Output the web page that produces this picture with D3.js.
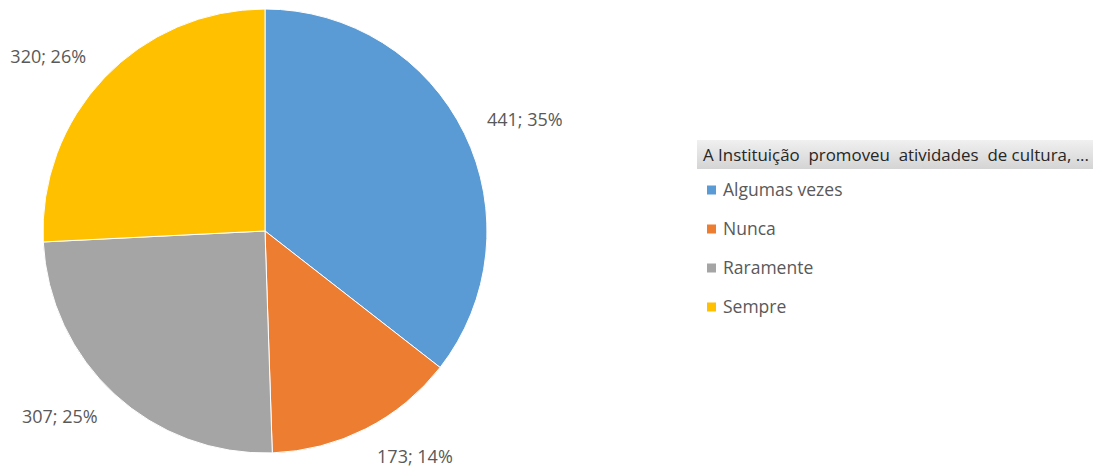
<!DOCTYPE html>
<html>
<head>
<meta charset="utf-8">
<script src="https://cdn.jsdelivr.net/npm/d3@7"></script>
<style>
  body { margin: 0; background: #fff; }
  svg { display: block; font-family: "Open Sans", "DejaVu Sans", sans-serif; }
</style>
</head>
<body>
<svg id="svg" width="1104" height="469"></svg>
<script>
const WIDTH = 1104
const HEIGHT = 469
const CX = 265
const CY = 231
const RADIUS = 222

const categories = ['Algumas vezes', 'Nunca', 'Raramente', 'Sempre']
const values = [441, 173, 307, 320]
const percents = [35, 14, 25, 26]
const colors = ['#5b9bd5', '#ed7d31', '#a5a5a5', '#ffc000']
const legendTitle = 'A Instituição  promoveu  atividades  de cultura, ...'

const data = categories.map((c, i) => ({ name: c, value: values[i], pct: percents[i] }))

const PIE = d3.pie().sort(null).value(d => d.value)
const ARC_DATA = PIE(data)
const ARC_GEN = d3.arc().innerRadius(0).outerRadius(RADIUS)
const LABEL_ARC = d3.arc().innerRadius(247).outerRadius(247)

const color = d3.scaleOrdinal().domain(categories).range(colors)

const SVG = d3.select('#svg')

const PIE_GROUP = SVG.append('g')
  .attr('transform', `translate(${CX}, ${CY})`)

PIE_GROUP.selectAll('path')
  .data(ARC_DATA)
  .enter()
  .append('path')
  .attr('d', ARC_GEN)
  .attr('fill', d => color(d.data.name))
  .attr('stroke', '#fff')
  .attr('stroke-width', 1)

const midAngle = d => (d.startAngle + d.endAngle) / 2

// labels sit a bit further out vertically, like Excel's best fit
PIE_GROUP.selectAll('text')
  .data(ARC_DATA)
  .enter()
  .append('text')
  .attr('transform', d => {
    const [x, y] = LABEL_ARC.centroid(d)
    return `translate(${x}, ${y - Math.cos(midAngle(d)) * 6})`
  })
  .attr('text-anchor', d => (midAngle(d) < Math.PI ? 'start' : 'end'))
  .attr('dy', '0.35em')
  .attr('fill', '#595959')
  .style('font-size', '18px')
  .text(d => `${d.data.value}; ${d.data.pct}%`)

// legend
const LEGEND = SVG.append('g').attr('transform', 'translate(697, 140)')

const grad = SVG.append('defs').append('linearGradient')
  .attr('id', 'hdr').attr('x1', 0).attr('y1', 0).attr('x2', 0).attr('y2', 1)
grad.append('stop').attr('offset', '0%').attr('stop-color', '#f0f0f0')
grad.append('stop').attr('offset', '100%').attr('stop-color', '#d4d4d4')

LEGEND.append('rect')
  .attr('width', 396)
  .attr('height', 29)
  .attr('fill', 'url(#hdr)')

LEGEND.append('text')
  .attr('x', 6)
  .attr('y', 15)
  .attr('dy', '0.35em')
  .attr('fill', '#262626')
  .style('font-size', '17px')
  .style('white-space', 'pre')
  .attr('xml:space', 'preserve')
  .attr('textLength', 386)
  .attr('lengthAdjust', 'spacingAndGlyphs')
  .text(legendTitle)

const y = d3.scalePoint().domain(categories).range([50, 167])

const ITEMS = LEGEND.selectAll('g.item')
  .data(data)
  .enter()
  .append('g')
  .attr('class', 'item')
  .attr('transform', d => `translate(0, ${y(d.name)})`)

ITEMS.append('rect')
  .attr('x', 10)
  .attr('y', -4.5)
  .attr('width', 9)
  .attr('height', 9)
  .attr('fill', d => color(d.name))

ITEMS.append('text')
  .attr('x', 26)
  .attr('dy', '0.35em')
  .attr('fill', '#595959')
  .style('font-size', '17.5px')
  .text(d => d.name)
</script>
</body>
</html>
